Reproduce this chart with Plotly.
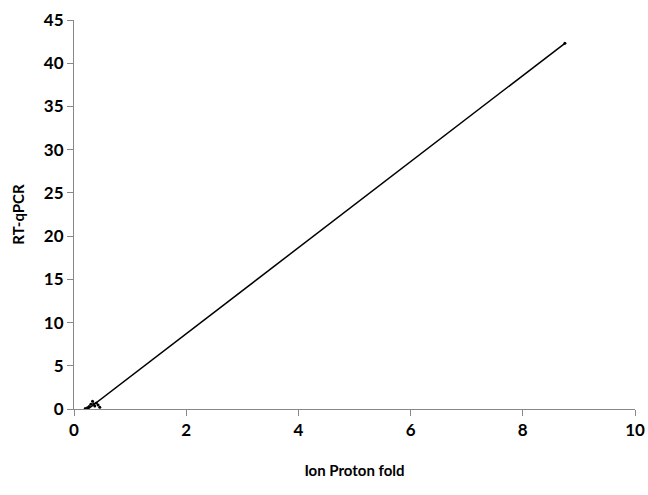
import plotly.graph_objects as go

# Data points (Ion Proton fold vs RT-qPCR)
pts_x = [0.20, 0.24, 0.27, 0.30, 0.33, 0.35, 0.37, 0.40, 0.43, 0.46, 8.75]
pts_y = [0.05, 0.15, 0.30, 0.55, 0.90, 0.60, 0.35, 0.70, 0.45, 0.20, 42.3]

# Linear trend line endpoints
trend_x = [0.25, 8.75]
trend_y = [0.0, 42.3]

x_ticks = [0, 2, 4, 6, 8, 10]
y_ticks = [0, 5, 10, 15, 20, 25, 30, 35, 40, 45]

fig = go.Figure()
fig.add_trace(go.Scatter(x=trend_x, y=trend_y, mode="lines",
                         line=dict(color="black", width=1.5), showlegend=False))
fig.add_trace(go.Scatter(x=pts_x, y=pts_y, mode="markers",
                         marker=dict(color="black", size=3), showlegend=False))

axis_font = dict(family="Lato", size=17, color="black", weight="bold")
title_font = dict(family="Lato", size=15, color="black", weight="bold")
fig.update_layout(
    width=648, height=495,
    margin=dict(l=74, r=13, t=20, b=86),
    paper_bgcolor="white", plot_bgcolor="white",
    xaxis=dict(range=[0, 10], tickvals=x_ticks, showgrid=False, zeroline=False,
               showline=True, linecolor="#888", linewidth=1,
               ticks="outside", ticklen=6, tickcolor="#888",
               tickfont=axis_font, automargin=False,
               title=dict(text="Ion Proton fold", font=title_font, standoff=26)),
    yaxis=dict(range=[0, 45], tickvals=y_ticks, showgrid=False, zeroline=False,
               showline=True, linecolor="#888", linewidth=1,
               ticks="outside", ticklen=6, tickcolor="#888",
               tickfont=axis_font, automargin=False,
               title=dict(text="RT-qPCR", font=title_font, standoff=15)),
)
fig.write_html("out.html", config={"displayModeBar": False},
               post_script="document.body.style.margin='0';document.body.style.padding='0';")
